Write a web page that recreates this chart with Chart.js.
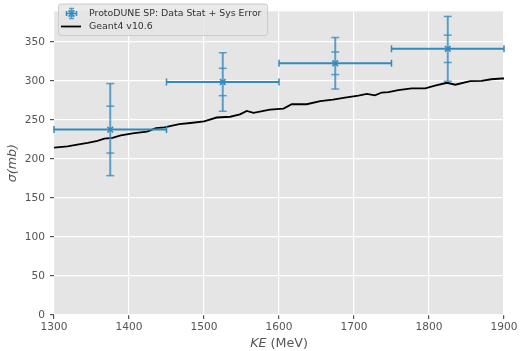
<!DOCTYPE html>
<html>
<head>
<meta charset="utf-8">
<script src="https://cdn.jsdelivr.net/npm/chart.js@4.4.0/dist/chart.umd.min.js"></script>
<style>
  html, body { margin: 0; padding: 0; background: #ffffff; }
  #wrap { width: 522px; height: 351px; }
</style>
</head>
<body>
<div id="wrap"><canvas id="c" width="522" height="351"></canvas></div>
<script>
// ---- Data ----
const dataLabel = "ProtoDUNE SP: Data Stat + Sys Error";
const dataX = [1375, 1525, 1675, 1825];
const dataY = [237.5, 298.5, 322.5, 341];
const xErr = [75, 75, 75, 75];
const statErr = [30, 17.5, 14.5, 17.5];
const totErr = [59, 37.5, 33, 41.5];

const g4Label = "Geant4 v10.6";
const g4X = [1300,1318,1333,1345,1358,1367,1378,1389,1407,1424,1436,1447,1467,1482,1500,1517,1535,1548,1557,1566,1588,1606,1617,1637,1655,1672,1688,1706,1717,1728,1737,1746,1759,1777,1795,1808,1824,1835,1855,1870,1883,1897,1900];
const g4Y = [214.5,216,218.5,220.5,223,226,227,230,233,235,239.5,240.5,244.5,246,248,253,254,257,261.5,259,263,264.5,270,270,274,276,278.5,281,283.3,281.3,285,285.4,288,290.4,290.4,293.8,297.5,295,299.5,300,302,303,303];

const xTicks = [1300, 1400, 1500, 1600, 1700, 1800, 1900];
const yTicks = [0, 50, 100, 150, 200, 250, 300, 350];
const xMin = 1300, xMax = 1900, yMin = 0, yMax = 389;

const BLUE = '#348ABD';
const BLUE_L = 'rgba(52,138,189,0.78)';
const FONT = "'DejaVu Sans', sans-serif";

// ---- Plugins ----
const bgPlugin = {
  id: 'bg',
  beforeDraw(chart) {
    const { ctx, chartArea: a } = chart;
    ctx.save();
    ctx.fillStyle = '#E5E5E5';
    ctx.fillRect(a.left, a.top, a.right - a.left, a.bottom - a.top);
    ctx.restore();
  }
};

function line(ctx, x1, y1, x2, y2) {
  ctx.beginPath(); ctx.moveTo(x1, y1); ctx.lineTo(x2, y2); ctx.stroke();
}

const errPlugin = {
  id: 'errbars',
  beforeDatasetDraw(chart, args) {
    if (args.index !== 0) return;
    const { ctx } = chart;
    const xs = chart.scales.x, ys = chart.scales.y;
    ctx.save();
    ctx.lineCap = 'butt';
    for (let i = 0; i < dataX.length; i++) {
      const px = xs.getPixelForValue(dataX[i]);
      const py = ys.getPixelForValue(dataY[i]);
      const xl = xs.getPixelForValue(dataX[i] - xErr[i]);
      const xr = xs.getPixelForValue(dataX[i] + xErr[i]);
      ctx.strokeStyle = BLUE; ctx.lineWidth = 2;
      line(ctx, xl, py, xr, py);
      ctx.lineWidth = 1.5;
      line(ctx, xl, py - 3.5, xl, py + 3.5);
      line(ctx, xr, py - 3.5, xr, py + 3.5);
      const yt = ys.getPixelForValue(dataY[i] + totErr[i]);
      const yb = ys.getPixelForValue(dataY[i] - totErr[i]);
      ctx.strokeStyle = BLUE_L; ctx.lineWidth = 2;
      line(ctx, px, yt, px, yb);
      ctx.lineWidth = 1.5;
      line(ctx, px - 4, yt, px + 4, yt);
      line(ctx, px - 4, yb, px + 4, yb);
      const st = ys.getPixelForValue(dataY[i] + statErr[i]);
      const sb = ys.getPixelForValue(dataY[i] - statErr[i]);
      line(ctx, px - 4, st, px + 4, st);
      line(ctx, px - 4, sb, px + 4, sb);
    }
    ctx.restore();
  }
};

const labelPlugin = {
  id: 'labels',
  afterDraw(chart) {
    const { ctx, chartArea: a } = chart;
    ctx.save();
    ctx.fillStyle = '#555555';
    ctx.textBaseline = 'alphabetic';
    const fs = 12.7;
    const p1 = 'KE', p2 = ' (MeV)';
    ctx.font = `italic ${fs}px ${FONT}`;
    const w1 = ctx.measureText(p1).width;
    ctx.font = `${fs}px ${FONT}`;
    const w2 = ctx.measureText(p2).width;
    const cx = (a.left + a.right) / 2;
    const x0 = cx - (w1 + w2) / 2;
    const by = 347;
    ctx.font = `italic ${fs}px ${FONT}`;
    ctx.textAlign = 'left';
    ctx.fillText(p1, x0, by);
    ctx.font = `${fs}px ${FONT}`;
    ctx.fillText(p2, x0 + w1, by);
    ctx.save();
    ctx.translate(16, (a.top + a.bottom) / 2);
    ctx.rotate(-Math.PI / 2);
    ctx.font = `italic ${fs}px ${FONT}`;
    ctx.textAlign = 'center';
    ctx.fillText('\u03C3(mb)', 0, 0);
    ctx.restore();

    // legend
    const lx = 58, ly = 3.5, lw = 209, lh = 31.5;
    ctx.fillStyle = 'rgba(229,229,229,0.8)';
    ctx.strokeStyle = '#CCCCCC';
    ctx.lineWidth = 1;
    ctx.beginPath();
    if (ctx.roundRect) ctx.roundRect(lx + 0.5, ly + 0.5, lw, lh, 2.5); else ctx.rect(lx + 0.5, ly + 0.5, lw, lh);
    ctx.fill(); ctx.stroke();
    const ix = 71.5, iy = 13.5;
    ctx.strokeStyle = BLUE; ctx.lineWidth = 1.5;
    line(ctx, ix - 5, iy, ix + 5, iy);
    line(ctx, ix - 5, iy - 2.5, ix - 5, iy + 2.5);
    line(ctx, ix + 5, iy - 2.5, ix + 5, iy + 2.5);
    ctx.strokeStyle = BLUE_L;
    line(ctx, ix, iy - 5, ix, iy + 5);
    line(ctx, ix - 2.5, iy - 5, ix + 2.5, iy - 5);
    line(ctx, ix - 2.5, iy + 5, ix + 2.5, iy + 5);
    line(ctx, ix - 2.5, iy - 2.5, ix + 2.5, iy - 2.5);
    line(ctx, ix - 2.5, iy + 2.5, ix + 2.5, iy + 2.5);
    ctx.strokeStyle = BLUE;
    line(ctx, ix - 3, iy - 3, ix + 3, iy + 3);
    line(ctx, ix - 3, iy + 3, ix + 3, iy - 3);
    ctx.strokeStyle = '#000000'; ctx.lineWidth = 1.8;
    line(ctx, 61, 26.5, 81, 26.5);
    ctx.fillStyle = '#333333';
    ctx.font = `9.4px ${FONT}`;
    ctx.textAlign = 'left';
    ctx.textBaseline = 'middle';
    ctx.fillText(dataLabel, 89, 13.5);
    ctx.fillText(g4Label, 89, 26.5);
    ctx.restore();
  }
};

// ---- Chart ----
const ctx = document.getElementById('c').getContext('2d');
new Chart(ctx, {
  type: 'scatter',
  data: {
    datasets: [
      {
        label: dataLabel,
        data: dataX.map((x, i) => ({ x: x, y: dataY[i] })),
        pointStyle: 'crossRot',
        pointRadius: 4,
        pointBorderWidth: 1.6,
        borderColor: BLUE,
        backgroundColor: BLUE,
        showLine: false,
        order: 0
      },
      {
        label: g4Label,
        type: 'line',
        data: g4X.map((x, i) => ({ x: x, y: g4Y[i] })),
        borderColor: '#000000',
        borderWidth: 1.8,
        pointRadius: 0,
        tension: 0,
        fill: false,
        order: 1
      }
    ]
  },
  options: {
    responsive: false,
    animation: false,
    devicePixelRatio: 1,
    layout: { padding: { left: 0, right: 18, top: 3, bottom: 0 } },
    plugins: { legend: { display: false }, tooltip: { enabled: false } },
    scales: {
      x: {
        type: 'linear', min: xMin, max: xMax,
        afterBuildTicks: s => { s.ticks = xTicks.map(v => ({ value: v })); },
        afterFit: s => { s.height = 36; },
        grid: { color: '#FFFFFF', lineWidth: 1.2, tickColor: '#555555', tickLength: 4, drawTicks: true },
        border: { display: false },
        ticks: { color: '#555555', font: { family: FONT, size: 10.6 }, padding: 2, maxRotation: 0, autoSkip: false,
                 callback: v => String(v) }
      },
      y: {
        type: 'linear', min: yMin, max: yMax,
        afterBuildTicks: s => { s.ticks = yTicks.map(v => ({ value: v })); },
        afterFit: s => { s.width = 54; },
        grid: { color: '#FFFFFF', lineWidth: 1.2, tickColor: '#555555', tickLength: 4, drawTicks: true },
        border: { display: false },
        ticks: { color: '#555555', font: { family: FONT, size: 10.6 }, padding: 5, autoSkip: false,
                 callback: v => String(v) }
      }
    }
  },
  plugins: [bgPlugin, errPlugin, labelPlugin]
});
</script>
</body>
</html>
